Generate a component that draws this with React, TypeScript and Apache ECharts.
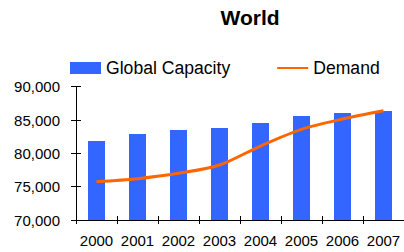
import React, { useEffect, useRef } from "react";
import * as echarts from "echarts";

const years = ["2000", "2001", "2002", "2003", "2004", "2005", "2006", "2007"];
const capacity = [81850, 82900, 83500, 83800, 84550, 85600, 86050, 86350];
const demand = [75750, 76200, 77000, 78250, 81100, 83600, 85150, 86400];
const yMin = 70000;
const yMax = 90000;
const yStep = 5000;

const FONT = "Liberation Sans, Arial, sans-serif";

export default function App() {
  const ref = useRef<HTMLDivElement>(null);
  useEffect(() => {
    if (!ref.current) return;
    const chart = echarts.init(ref.current, null, { renderer: "svg" });
    const fmt = (v: number) => v.toLocaleString("en-US");
    chart.setOption({
      animation: false,
      backgroundColor: "#ffffff",
      textStyle: { fontFamily: FONT },
      title: {
        text: "World",
        left: 250,
        textAlign: "center",
        top: 7,
        padding: 0,
        textStyle: { fontFamily: FONT, fontSize: 21, fontWeight: "bold", color: "#000" },
      },
      legend: {
        left: 70,
        top: 59,
        padding: 0,
        itemWidth: 31,
        itemHeight: 12,
        itemGap: 46,
        textStyle: { fontFamily: FONT, fontSize: 17.6, color: "#000" },
        data: [
          { name: "Global Capacity", icon: "rect" },
          { name: "Demand", itemStyle: { opacity: 0 } },
        ],
      },
      grid: { left: 76, top: 86.7, width: 330, height: 133.3 },
      xAxis: [
        {
          type: "category",
          data: years,
          axisLine: { lineStyle: { color: "#000", width: 1 } },
          axisTick: { show: true, length: 4, lineStyle: { color: "#000" } },
          axisLabel: { interval: 0, color: "#000", fontFamily: FONT, fontSize: 15, margin: 13 },
        },
        {
          type: "category",
          data: years,
          position: "bottom",
          axisLine: { show: false },
          axisTick: { show: true, inside: true, length: 4, lineStyle: { color: "#000" } },
          axisLabel: { show: false },
        },
      ],
      yAxis: [
        {
          type: "value",
          min: yMin,
          max: yMax,
          interval: yStep,
          splitLine: { show: false },
          axisLine: { show: true, lineStyle: { color: "#000", width: 1 } },
          axisTick: { show: true, length: 5, lineStyle: { color: "#000" } },
          axisLabel: { color: "#000", fontFamily: FONT, fontSize: 15, margin: 16, formatter: fmt },
        },
        {
          type: "value",
          min: yMin,
          max: yMax,
          interval: yStep,
          position: "left",
          splitLine: { show: false },
          axisLine: { show: false },
          axisTick: { show: true, inside: true, length: 5, lineStyle: { color: "#000" } },
          axisLabel: { show: false },
        },
      ],
      series: [
        {
          name: "Global Capacity",
          type: "bar",
          data: capacity,
          barWidth: 17,
          itemStyle: { color: "#3366FF" },
        },
        {
          name: "Demand",
          type: "line",
          data: demand,
          smooth: 0.3,
          symbol: "none",
          lineStyle: { color: "#FF6600", width: 3 },
          itemStyle: { color: "#FF6600" },
        },
      ],
    });
    return () => chart.dispose();
  }, []);
  return (
    <div
      ref={ref}
      style={{ position: "fixed", left: 0, top: 0, width: 404, height: 252 }}
    />
  );
}
